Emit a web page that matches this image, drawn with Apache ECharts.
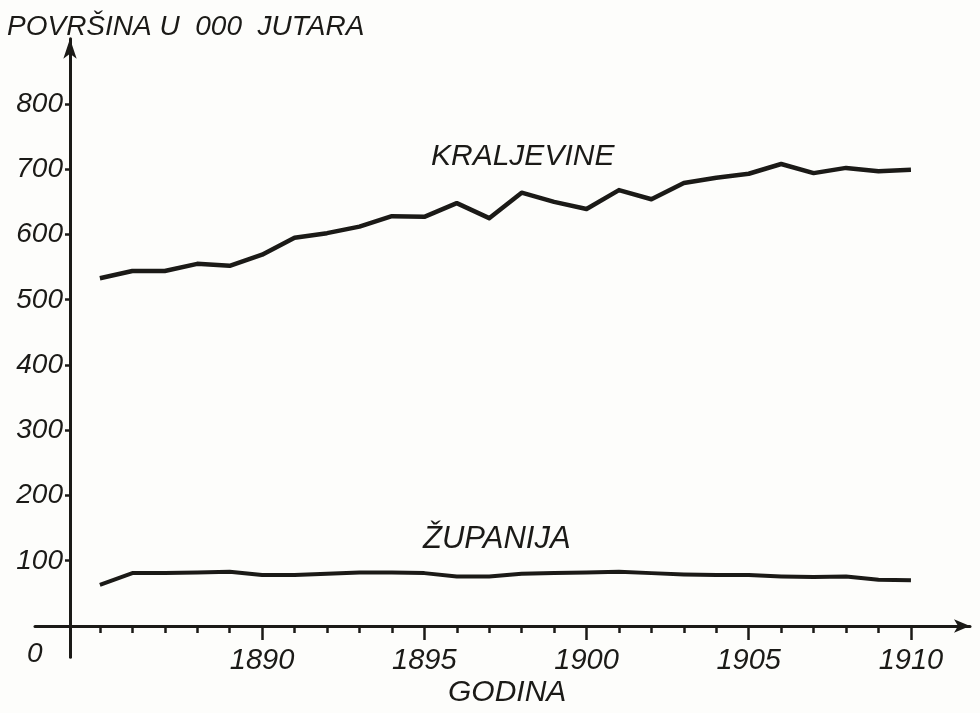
<!DOCTYPE html>
<html>
<head>
<meta charset="utf-8">
<script src="https://cdn.jsdelivr.net/npm/echarts@6/dist/echarts.min.js"></script>
<style>
  html, body { margin: 0; padding: 0; background: #fdfdfb; }
  #chart { width: 980px; height: 713px; }
</style>
</head>
<body>
<div id="chart"></div>
<script>
// godine 1885-1910
var years = [1885,1886,1887,1888,1889,1890,1891,1892,1893,1894,1895,1896,1897,
             1898,1899,1900,1901,1902,1903,1904,1905,1906,1907,1908,1909,1910];
// povrsina u 000 jutara
var kraljevine = [533,544,544,555,552,569,595,602,612,628,627,648,625,
                  664,650,639,668,654,679,687,693,708,694,702,697,699];
var zupanija = [63,81,81,82,83,78,78,80,82,82,81,76,76,
                80,81,82,83,81,79,78,78,76,75,76,71,70];
var yTicks = [100,200,300,400,500,600,700,800];
var xLabels = [1890,1895,1900,1905,1910];
var xMinorTicks = years.slice();

var ink = '#1b1a17';
var fnt = 'Liberation Sans';

function pairs(vals){
	var out = [];
	for (var i = 0; i < years.length; i++) {
		out.push([years[i], vals[i]]);
	}
	return out;
}

var myChart = echarts.init(document.getElementById('chart'));
var option = {
	backgroundColor: '#fdfdfb',
	animation: false,
	title: {
		text: 'POVRŠINA U  000  JUTARA',
		left: 2,
		top: 8,
		textStyle: { fontFamily: fnt, fontStyle: 'italic', fontWeight: 'normal', fontSize: 28, color: ink }
	},
	grid: { left: 35, right: 10, top: 38.7, bottom: 55.7, containLabel: false },
	xAxis: [{
		type: 'value',
		min: 1883,
		max: 1911.82,
		axisLine: { show: true, onZero: true, onZeroAxisIndex: 0, symbol: ['none', 'arrow'], symbolSize: [10, 16],
			lineStyle: { color: ink, width: 3 } },
		axisTick: { show: true, customValues: xMinorTicks, length: 7, inside: false,
			lineStyle: { color: ink, width: 2.5 } },
		axisLabel: { show: false },
		splitLine: { show: false }
	}, {
		type: 'value',
		min: 1883,
		max: 1911.82,
		position: 'bottom',
		axisLine: { show: true, onZero: true, onZeroAxisIndex: 0, lineStyle: { color: ink, width: 3, opacity: 0 } },
		axisTick: { show: true, customValues: xLabels, length: 14,
			lineStyle: { color: ink, width: 2.5 } },
		// labels stay at the grid edge (657px), so pull them up to sit under the zero line
		axisLabel: { show: true, customValues: xLabels, margin: -11,
			fontFamily: fnt, fontStyle: 'italic', fontSize: 29, color: ink,
			formatter: function(v){ return String(v); } },
		splitLine: { show: false }
	}],
	yAxis: {
		type: 'value',
		min: -48,
		max: 900,
		offset: -35,
		axisLine: { show: true, onZero: false, symbol: ['none', 'arrow'], symbolSize: [10, 20],
			lineStyle: { color: ink, width: 3 } },
		axisTick: { show: true, customValues: yTicks, length: 5,
			lineStyle: { color: ink, width: 2.5 } },
		axisLabel: { show: true, customValues: yTicks, margin: 7,
			fontFamily: fnt, fontStyle: 'italic', fontSize: 28, color: ink },
		splitLine: { show: false }
	},
	graphic: [
		{ type: 'text', left: 27, top: 640,
		  style: { text: '0', fontFamily: fnt, fontStyle: 'italic', fontSize: 28, fill: ink } },
		{ type: 'text', left: 431, top: 142,
		  style: { text: 'KRALJEVINE', fontFamily: fnt, fontStyle: 'italic', fontSize: 30, fill: ink } },
		{ type: 'text', left: 423, top: 524,
		  style: { text: 'ŽUPANIJA', fontFamily: fnt, fontStyle: 'italic', fontSize: 31, fill: ink } },
		{ type: 'text', left: 448, top: 678,
		  style: { text: 'GODINA', fontFamily: fnt, fontStyle: 'italic', fontSize: 30, fill: ink } }
	],
	series: [{
		name: 'Kraljevine',
		type: 'line',
		data: pairs(kraljevine),
		showSymbol: false,
		lineStyle: { color: ink, width: 4.5, join: 'round' }
	}, {
		name: 'Županija',
		type: 'line',
		data: pairs(zupanija),
		showSymbol: false,
		lineStyle: { color: ink, width: 4, join: 'round' }
	}]
};
myChart.setOption(option);
</script>
</body>
</html>
